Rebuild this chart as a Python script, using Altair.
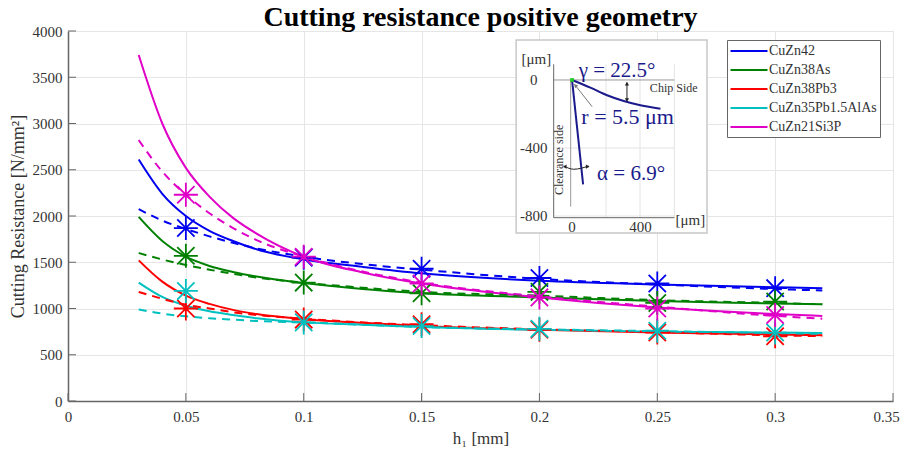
import altair as alt
import pandas as pd

FONT = "Liberation Serif"
SERIES = ["CuZn42", "CuZn38As", "CuZn38Pb3", "CuZn35Pb1.5AlAs", "CuZn21Si3P"]
COLORS = ["#0000f0", "#008000", "#ff0000", "#00c0c0", "#e000c8"]

x_solid = [0.03, 0.04, 0.05, 0.06, 0.07, 0.08, 0.1, 0.125, 0.15, 0.2, 0.25, 0.3, 0.32]
blue_solid = [2610, 2240, 2000, 1840, 1730, 1640, 1530, 1450, 1380, 1300, 1260, 1230, 1220]
green_solid = [1990, 1730, 1560, 1460, 1395, 1345, 1275, 1210, 1165, 1120, 1080, 1055, 1045]
red_solid = [1520, 1290, 1140, 1050, 985, 940, 885, 845, 810, 770, 740, 720, 710]
cyan_solid = [1280, 1125, 1030, 970, 930, 895, 850, 825, 800, 770, 750, 740, 735]
mag_solid = [3740, 3000, 2520, 2210, 1980, 1810, 1560, 1390, 1270, 1120, 1010, 940, 920]

blue_dash = [2075, 1950, 1860, 1780, 1710, 1650, 1560, 1480, 1420, 1320, 1260, 1210, 1195]
green_dash = [1600, 1530, 1470, 1420, 1375, 1335, 1280, 1225, 1180, 1140, 1090, 1060, 1045]
red_dash = [1180, 1105, 1040, 1000, 960, 930, 890, 850, 820, 775, 745, 710, 700]
cyan_dash = [990, 945, 915, 895, 880, 865, 850, 825, 800, 775, 755, 735, 725]
mag_dash = [2820, 2480, 2230, 2030, 1870, 1740, 1560, 1400, 1280, 1130, 1020, 920, 890]

x_star = [0.05, 0.1, 0.15, 0.2, 0.25, 0.3]
blue_star = [1870, 1550, 1430, 1330, 1270, 1220]
green_star = [1570, 1280, 1165, 1180, 1060, 1075]
red_star = [1000, 880, 830, 770, 740, 700]
cyan_star = [1190, 850, 810, 780, 760, 740]
mag_star = [2230, 1560, 1270, 1120, 1000, 930]

x_ticks = [0, 0.05, 0.1, 0.15, 0.2, 0.25, 0.3, 0.35]
y_ticks = [0, 500, 1000, 1500, 2000, 2500, 3000, 3500, 4000]

chip_x = [0, 108, 206, 304, 402, 520]
chip_y = [0, -45, -90, -124, -149, -169]
clear_x = [0, 65]
clear_y = [0, -614]
alpha_x = [-49, 10, 98]
alpha_y = [-506, -525, -506]

inset_texts = [
    ("\u03b3 = 22.5\u00b0", 265, 53, 21, "#1a1a8c", 0),
    ("r = 5.5 \u03bcm", 327, -218, 22, "#1a1a8c", 0),
    ("\u03b1 = 6.9\u00b0", 347, -555, 21, "#1a1a8c", 0),
    ("Chip Side", 598, -49, 12, "#333333", 0),
    ("Clearance side", -75, -470, 12, "#333333", 270),
    ("[\u03bcm]", -210, 122, 15, "#333333", 0),
    ("[\u03bcm]", 696, -825, 15, "#333333", 0),
    ("0", -225, 0, 15, "#333333", 0),
    ("-400", -225, -398, 15, "#333333", 0),
    ("-800", -225, -800, 15, "#333333", 0),
    ("0", 0, -865, 15, "#333333", 0),
    ("400", 402, -865, 15, "#333333", 0),
]
# x, y, x2, y2, colour, width
inset_rules = [
    (-108, -400, 602, -400, "#e4e4e4", 1),
    (-108, -800, 602, -800, "#e4e4e4", 1),
    (200, 92, 200, -810, "#e4e4e4", 1),
    (400, 92, 400, -810, "#e4e4e4", 1),
    (602, 92, 602, -810, "#e4e4e4", 1),
    (-108, 0, 602, 0, "#999999", 1),
    (-8, 0, -8, -745, "#999999", 1),
    (-108, 92, -108, -810, "#666666", 1),
    (-108, -810, 602, -810, "#666666", 1),
    (323, -16, 323, -124, "#222222", 1),
    (118, -157, 14, -25, "#777777", 1),
]
# x, y, rotation of the arrowheads
arrow_heads = [
    (323, -22, 0, "#222222"),
    (323, -118, 180, "#222222"),
    (20, -32, 320, "#777777"),
    (-43, -510, 270, "#222222"),
    (92, -510, 90, "#222222"),
]

arrs_solid = [blue_solid, green_solid, red_solid, cyan_solid, mag_solid]
arrs_dash = [blue_dash, green_dash, red_dash, cyan_dash, mag_dash]
arrs_star = [blue_star, green_star, red_star, cyan_star, mag_star]


def table(xs, arrs):
    return pd.DataFrame(
        [{"x": x, "y": v, "s": s} for s, a in zip(SERIES, arrs) for x, v in zip(xs, a)]
    )


X_MAIN = alt.Scale(domain=[0, 0.35], nice=False, zero=False)
Y_MAIN = alt.Scale(domain=[0, 4000], nice=False, zero=False)
COL = alt.Scale(domain=SERIES, range=COLORS)

x_enc = alt.X(
    "x:Q", scale=X_MAIN, title="h\u2081 [mm]",
    axis=alt.Axis(values=x_ticks, labelExpr="format(datum.value, '.2~f')", ticks=False, grid=True,
                  gridColor="#e6e6e6", domainColor="#666666", domainWidth=1.5,
                  labelFont=FONT, labelFontSize=15, labelColor="#333333", labelPadding=8,
                  labelFlush=False, labelOverlap=False,
                  labelOffset={"condition": {"test": "datum.value == 0.35", "value": -7}, "value": 0},
                  titleFont=FONT, titleFontSize=17,
                  titleColor="#333333", titleFontWeight="normal", titlePadding=6),
)
y_enc = alt.Y(
    "y:Q", scale=Y_MAIN, title="Cutting Resistance [N/mm\u00b2]",
    axis=alt.Axis(values=y_ticks, format="d", ticks=False, grid=True, gridColor="#e6e6e6",
                  domainColor="#666666", domainWidth=1.5, labelFont=FONT, labelFontSize=15,
                  labelColor="#333333", labelPadding=6, titleFont=FONT, titleFontSize=18,
                  titleColor="#333333", titleFontWeight="normal", titlePadding=5),
)
legend = alt.Legend(
    title=None, orient="none", legendX=659, legendY=9, strokeColor="#666666", fillColor="white",
    padding=3, symbolType="M-2.64,0L2.64,0", symbolSize=196, symbolStrokeWidth=2, symbolOffset=11,
    labelFont=FONT, labelFontSize=14, labelColor="#333333", rowPadding=4, labelOffset=12,
    cornerRadius=0,
)

solid = alt.Chart(table(x_solid, arrs_solid)).mark_line(strokeWidth=2, interpolate="monotone").encode(
    x=x_enc, y=y_enc, color=alt.Color("s:N", scale=COL, legend=legend)
)
dashed = alt.Chart(table(x_solid, arrs_dash)).mark_line(
    strokeWidth=2, strokeDash=[8, 6], interpolate="monotone"
).encode(
    x=alt.X("x:Q", scale=X_MAIN), y=alt.Y("y:Q", scale=Y_MAIN),
    color=alt.Color("s:N", scale=COL, legend=None),
)
STAR = "M-1,0L1,0M0,-1L0,1M-.72,-.72L.72,.72M-.72,.72L.72,-.72"
stars = alt.Chart(table(x_star, arrs_star)).mark_point(
    shape=STAR, filled=False, size=576, strokeWidth=1.8, opacity=1
).encode(
    x=alt.X("x:Q", scale=X_MAIN), y=alt.Y("y:Q", scale=Y_MAIN),
    color=alt.Color("s:N", scale=COL, legend=None),
)
tick_rows_x = pd.DataFrame({"x": x_ticks, "y": 0, "y2": 86})
tick_rows_y = pd.DataFrame({"y": y_ticks, "x": 0, "x2": 0.0034})
ticks_x = alt.Chart(tick_rows_x).mark_rule(color="#666666", strokeWidth=1).encode(
    x=alt.X("x:Q", scale=X_MAIN), y=alt.Y("y:Q", scale=Y_MAIN), y2="y2:Q")
ticks_y = alt.Chart(tick_rows_y).mark_rule(color="#666666", strokeWidth=1).encode(
    x=alt.X("x:Q", scale=X_MAIN), x2="x2:Q", y=alt.Y("y:Q", scale=Y_MAIN))

main = alt.layer(solid, dashed, stars, ticks_x, ticks_y)

# Inset: own scales, 0.17 px per micrometre, sharing the plot rectangle
X_IN = alt.Scale(domain=[-2965, 1888], nice=False, zero=False)
Y_IN = alt.Scale(domain=[-1888, 288], nice=False, zero=False)
ix = alt.X("x:Q", scale=X_IN, axis=None)
iy = alt.Y("y:Q", scale=Y_IN, axis=None)

box = alt.Chart(pd.DataFrame({"x": [-329], "x2": [794], "y": [235], "y2": [-900]})).mark_rect(
    fill="white", stroke="#c8c8c8", strokeWidth=1.5
).encode(x=ix, x2="x2:Q", y=iy, y2="y2:Q")

rules_df = pd.DataFrame(inset_rules, columns=["x", "y", "x2", "y2", "c", "w"])
rules = alt.Chart(rules_df).mark_rule().encode(
    x=ix, y=iy, x2="x2:Q", y2="y2:Q",
    color=alt.Color("c:N", scale=None),
    strokeWidth=alt.StrokeWidth("w:Q", scale=None),
)
edge_chip = alt.Chart(pd.DataFrame({"x": chip_x, "y": chip_y})).mark_line(
    color="#1a1a8c", strokeWidth=2, interpolate="monotone").encode(x=ix, y=iy)
edge_clear = alt.Chart(pd.DataFrame({"x": clear_x, "y": clear_y})).mark_line(
    color="#1a1a8c", strokeWidth=2).encode(x=ix, y=iy)
alpha_arc = alt.Chart(pd.DataFrame({"x": alpha_x, "y": alpha_y})).mark_line(
    color="#222222", strokeWidth=1, interpolate="monotone").encode(x=ix, y=iy)
tip = alt.Chart(pd.DataFrame({"x": [0], "y": [0]})).mark_point(
    shape="square", filled=True, size=14, color="#22cc22", opacity=1).encode(x=ix, y=iy)
heads_df = pd.DataFrame(arrow_heads, columns=["x", "y", "a", "c"])
heads = alt.Chart(heads_df).mark_point(shape="triangle-up", filled=True, size=18, opacity=1).encode(
    x=ix, y=iy, angle=alt.Angle("a:Q", scale=None), color=alt.Color("c:N", scale=None))
texts_df = pd.DataFrame(inset_texts, columns=["t", "x", "y", "z", "c", "a"])
texts = alt.Chart(texts_df).mark_text(font=FONT, align="center", baseline="middle").encode(
    x=ix, y=iy, text="t:N",
    size=alt.Size("z:Q", scale=None),
    color=alt.Color("c:N", scale=None),
    angle=alt.Angle("a:Q", scale=None),
)
inset = alt.layer(box, rules, edge_chip, edge_clear, alpha_arc, tip, heads, texts)

chart = (
    alt.layer(main, inset)
    .resolve_scale(x="independent", y="independent", color="independent", size="independent", angle="independent")
    .properties(
        width=825, height=370,
        padding={"left": 60, "top": 23, "right": 7, "bottom": 52},
        autosize=alt.AutoSizeParams(type="none"),
        title=alt.TitleParams("Cutting resistance positive geometry", font=FONT, fontSize=28,
                              fontWeight="bold", color="black", anchor="middle", offset=-8),
    )
    .configure_view(stroke=None)
    .configure(background="white")
)
chart.save("out.html", embed_options={"renderer": "svg", "actions": False})
